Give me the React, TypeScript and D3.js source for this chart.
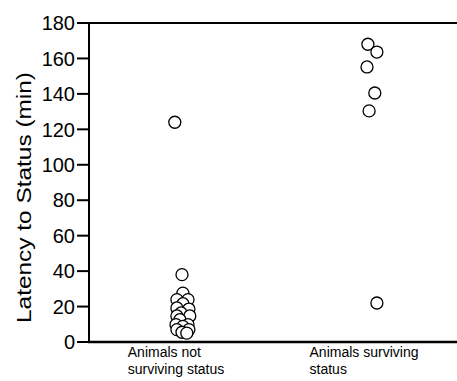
import * as d3 from 'd3';
import React, { useLayoutEffect, useRef } from 'react';

// groups on the x axis (label lines)
const groups = ['not', 'surv'];
const groupLabels = [
  ['Animals not', 'surviving status'],
  ['Animals surviving', 'status'],
];

// latency values (min)
const notSurvivingValues = [124, 38, 27.6, 23.9, 23.9, 21.6, 19.2, 18.6, 16.4, 14.7, 14.7, 12.6, 9.8, 9.8, 8.8, 7, 7, 5.5, 5];
// horizontal scatter of each point, in point radii from the group centre
const notSurvivingJitter = [-0.2, 1, 1.15, 0.15, 2, 1.15, 0.15, 2.15, 0.85, 0.15, 2.3, 0.65, 0, 2, 1.15, 0.15, 2.15, 1, 1.8];

const survivingValues = [168, 163.6, 155.2, 140.5, 130.4, 22];
const survivingJitter = [0.65, 2.15, 0.5, 1.8, 0.85, 2.15];

const yTicks = [0, 20, 40, 60, 80, 100, 120, 140, 160, 180];

const W = 457;
const H = 381;
const R = 6;
const font = 'Arial, "Liberation Sans", sans-serif';

export default function App() {
  const labelRef = useRef<SVGGElement>(null);

  const x = d3.scaleBand<string>().domain(groups).range([82, 458]);
  const y = d3.scaleLinear().domain([0, 180]).range([342, 23]);
  const cx = (g: string) => (x(g) as number) + x.bandwidth() / 2;

  const points = [
    ...notSurvivingValues.map((v, i) => ({ g: 'not', v, j: notSurvivingJitter[i] })),
    ...survivingValues.map((v, i) => ({ g: 'surv', v, j: survivingJitter[i] })),
  ];

  // centre each two-line label block under its group, lines left aligned
  useLayoutEffect(() => {
    const sel = d3.select(labelRef.current);
    sel.selectAll<SVGGElement, unknown>('g.lbl').each(function (_, i) {
      const texts = d3.select(this).selectAll<SVGTextElement, unknown>('text').nodes();
      const w = d3.max(texts, t => t.getComputedTextLength()) || 0;
      d3.select(this).attr('transform', `translate(${cx(groups[i]) - w / 2},0)`);
    });
  });

  const [y0, y1] = y.range();
  const axisX = 89;

  return (
    <svg width={W} height={H} style={{ position: 'absolute', left: 0, top: 0, background: '#fff' }}>
      {/* top frame line */}
      <line x1={82} x2={W} y1={y(180)} y2={y(180)} stroke="#000" strokeWidth={2} />
      {/* y axis */}
      <line x1={axisX} x2={axisX} y1={y0 + 1} y2={y1} stroke="#000" strokeWidth={2} />
      {yTicks.map(t => (
        <g key={t}>
          <line x1={axisX - 12} x2={axisX} y1={y(t)} y2={y(t)} stroke="#000" strokeWidth={2} />
          <text x={axisX - 14} y={y(t)} dy="0.36em" textAnchor="end" fontFamily={font} fontSize={20}>
            {t}
          </text>
        </g>
      ))}
      {/* x axis */}
      <line x1={axisX - 1} x2={W} y1={y(0)} y2={y(0)} stroke="#000" strokeWidth={2.5} />
      <text
        transform={`translate(31,${(y0 + y1) / 2 + 15}) rotate(-90)`}
        textAnchor="middle"
        fontFamily={font}
        fontSize={21}
        textLength={251}
        lengthAdjust="spacingAndGlyphs"
      >
        Latency to Status (min)
      </text>
      <g ref={labelRef}>
        {groupLabels.map((lines, i) => (
          <g className="lbl" key={i}>
            {lines.map((l, k) => (
              <text key={k} x={0} y={357 + k * 17} fontFamily={font} fontSize={14}>
                {l}
              </text>
            ))}
          </g>
        ))}
      </g>
      {points.map((p, i) => (
        <circle key={i} cx={cx(p.g) + p.j * R} cy={y(p.v)} r={R} fill="#fff" stroke="#000" strokeWidth={1.3} />
      ))}
    </svg>
  );
}
